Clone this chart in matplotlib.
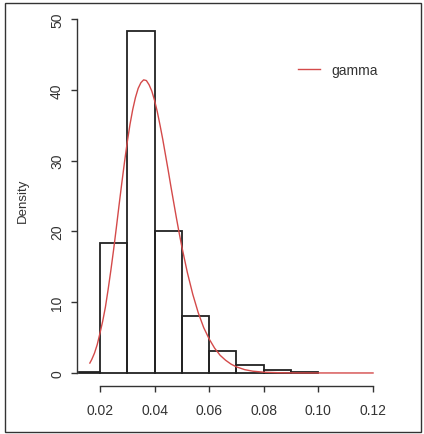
#!/usr/bin/env python3

"""\
Histogram of the observed values with a fitted gamma density on top,
drawn to look like the base R graphics output.
"""

import numpy as np
import matplotlib
matplotlib.use('Agg')
import matplotlib.pyplot as plt
from matplotlib.patches import Rectangle

# histogram (density scale)
bin_edges = [0.0123, 0.02, 0.03, 0.04, 0.05, 0.06, 0.07, 0.08, 0.09, 0.10]
bin_density = [0.12, 18.4, 48.3, 20.1, 8.1, 3.1, 1.1, 0.35, 0.15]

# fitted gamma curve
curve_x = [0.0163, 0.017, 0.018, 0.019, 0.020, 0.021, 0.022, 0.023, 0.024,
           0.025, 0.026, 0.027, 0.028, 0.029, 0.030, 0.031, 0.032, 0.033,
           0.034, 0.035, 0.036, 0.037, 0.038, 0.039, 0.040, 0.041, 0.042,
           0.043, 0.044, 0.045, 0.046, 0.047, 0.048, 0.049, 0.050, 0.052,
           0.054, 0.056, 0.058, 0.060, 0.062, 0.064, 0.066, 0.068, 0.070,
           0.073, 0.076, 0.080, 0.085, 0.090, 0.100, 0.110, 0.120]
curve_y = [1.4, 1.9, 2.8, 4.0, 5.6, 7.3, 9.3, 11.8, 14.5,
           17.4, 20.5, 23.7, 26.8, 29.8, 32.6, 35.1, 37.2, 38.9,
           40.2, 41.0, 41.4, 41.3, 40.7, 39.8, 38.5, 36.9, 35.0,
           33.0, 30.8, 28.6, 26.3, 24.1, 21.9, 19.8, 17.8, 14.2,
           11.1, 8.5, 6.4, 4.8, 3.5, 2.5, 1.8, 1.25, 0.86,
           0.47, 0.25, 0.11, 0.04, 0.012, 0.002, 0.0, 0.0]

x_ticks = [0.02, 0.04, 0.06, 0.08, 0.10, 0.12]
x_tick_labels = ['0.02', '0.04', '0.06', '0.08', '0.10', '0.12']
y_ticks = [0, 10, 20, 30, 40, 50]

W, H = 424, 435
INK = '#333333'


def plot_hist(ax):
    edges = np.array(bin_edges)
    ax.bar(edges[:-1], bin_density, width=np.diff(edges), align='edge',
           facecolor='none', edgecolor='#222222', linewidth=1.3, zorder=2)
    ax.plot(curve_x, curve_y, color='#d44a4a', linewidth=1.0,
            label='gamma', zorder=3, solid_joinstyle='round')


def style_axes(ax):
    ax.set_xlim(0.0116, 0.1261)
    ax.set_ylim(-1.84, 50.7)

    for side in ('top', 'right'):
        ax.spines[side].set_visible(False)
    for side in ('left', 'bottom'):
        ax.spines[side].set_color(INK)
        ax.spines[side].set_linewidth(1.0)
    ax.spines['left'].set_bounds(0, 50)
    ax.spines['bottom'].set_bounds(0.02, 0.12)

    ax.set_xticks(x_ticks)
    ax.set_xticklabels(x_tick_labels)
    ax.set_yticks(y_ticks)
    ax.set_yticklabels([str(t) for t in y_ticks], rotation=90, va='center')

    ax.tick_params(axis='both', direction='out', length=4.3, width=1.0,
                   color=INK, labelcolor=INK, labelsize=10)
    ax.tick_params(axis='x', pad=8)
    ax.tick_params(axis='y', pad=5)

    ax.set_ylabel('Density', fontsize=9.5, color=INK, labelpad=15)

    leg = ax.legend(loc='center left', bbox_to_anchor=(298 / W, 1 - 71 / H),
                    bbox_transform=ax.figure.transFigure, frameon=False,
                    handlelength=1.6, handletextpad=0.8, borderpad=0,
                    borderaxespad=0, fontsize=10)
    for text in leg.get_texts():
        text.set_color(INK)


def create_figure():
    plt.rcParams['font.family'] = ['Liberation Sans', 'DejaVu Sans']
    fig = plt.figure(figsize=(W / 100, H / 100), dpi=100)
    ax = fig.add_axes([77 / W, 1 - 387 / H, (389.7 - 77) / W, (387 - 15) / H])
    ax.patch.set_visible(False)

    # outer frame round the whole device
    fig.add_artist(Rectangle((5 / W, 2 / H), 416 / W, 429 / H,
                             transform=fig.transFigure, fill=False,
                             edgecolor=INK, linewidth=1.0))
    return fig, ax


if __name__ == '__main__':
    fig, ax = create_figure()
    plot_hist(ax)
    style_axes(ax)
    fig.savefig('out.png', dpi=100)
